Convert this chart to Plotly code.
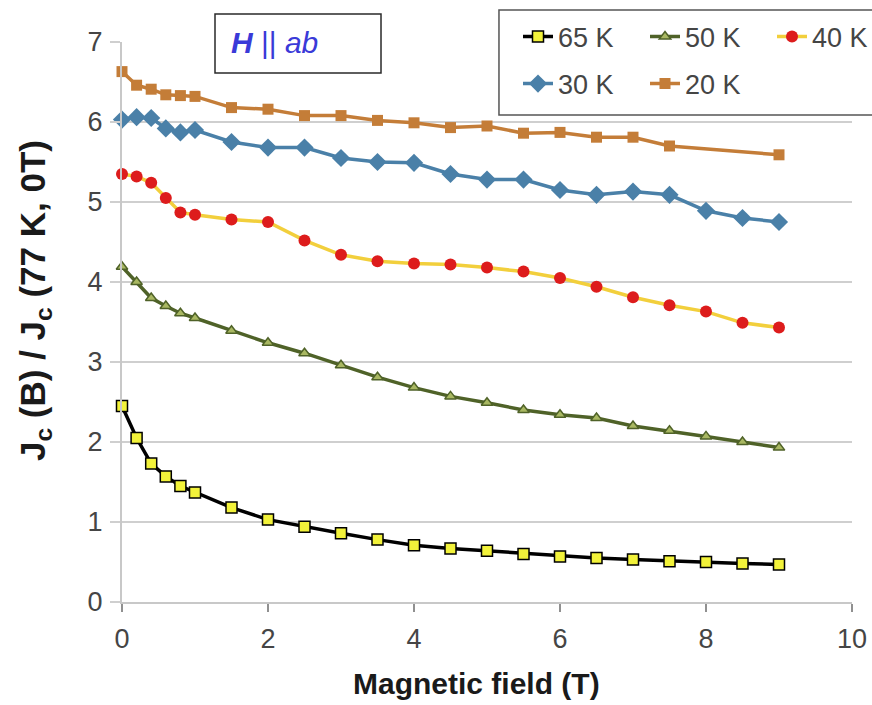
import plotly.graph_objects as go

field = [0, 0.2, 0.4, 0.6, 0.8, 1.0, 1.5, 2.0, 2.5, 3.0, 3.5, 4.0, 4.5, 5.0, 5.5, 6.0, 6.5, 7.0, 7.5, 8.0, 8.5, 9.0]
field_20k = [0, 0.2, 0.4, 0.6, 0.8, 1.0, 1.5, 2.0, 2.5, 3.0, 3.5, 4.0, 4.5, 5.0, 5.5, 6.0, 6.5, 7.0, 7.5, 9.0]

jc_65k = [2.45, 2.05, 1.73, 1.57, 1.45, 1.37, 1.18, 1.03, 0.94, 0.86, 0.78, 0.71, 0.67, 0.64, 0.60, 0.57, 0.55, 0.53, 0.51, 0.50, 0.48, 0.47]
jc_50k = [4.19, 4.00, 3.80, 3.70, 3.61, 3.55, 3.39, 3.24, 3.11, 2.96, 2.81, 2.68, 2.57, 2.49, 2.40, 2.34, 2.30, 2.20, 2.14, 2.07, 2.00, 1.93]
jc_40k = [5.35, 5.32, 5.24, 5.05, 4.87, 4.84, 4.78, 4.75, 4.52, 4.34, 4.26, 4.23, 4.22, 4.18, 4.13, 4.05, 3.94, 3.81, 3.71, 3.63, 3.49, 3.43]
jc_30k = [6.03, 6.06, 6.05, 5.92, 5.87, 5.90, 5.75, 5.68, 5.68, 5.55, 5.50, 5.49, 5.35, 5.28, 5.28, 5.15, 5.09, 5.13, 5.09, 4.89, 4.80, 4.75]
jc_20k = [6.63, 6.46, 6.41, 6.34, 6.33, 6.32, 6.18, 6.16, 6.08, 6.08, 6.02, 5.99, 5.93, 5.95, 5.86, 5.87, 5.81, 5.81, 5.70, 5.59]

x_ticks = [0, 2, 4, 6, 8, 10]
y_ticks = [0, 1, 2, 3, 4, 5, 6, 7]

x_title = "<b>Magnetic field (T)</b>"
y_title = "<b>J<sub>c</sub> (B) / J<sub>c</sub> (77 K, 0T)</b>"

FONT = "Arial, Liberation Sans, sans-serif"
TICK_COLOR = "#454545"
W, H = 872, 705

fig = go.Figure()

fig.add_trace(go.Scatter(
    x=field, y=jc_65k, name="65 K", mode="lines+markers", legend="legend",
    line=dict(color="#000000", width=3.5),
    marker=dict(symbol="square", size=11, color="#f2f23a", line=dict(color="#000000", width=1.5)),
    cliponaxis=False,
))
fig.add_trace(go.Scatter(
    x=field, y=jc_50k, name="50 K", mode="lines+markers", legend="legend",
    line=dict(color="#4f6228", width=3.5),
    marker=dict(symbol="triangle-up", size=10, color="#a9b862", line=dict(color="#4f6228", width=1.5)),
    cliponaxis=False,
))
fig.add_trace(go.Scatter(
    x=field, y=jc_40k, name="40 K", mode="lines+markers", legend="legend",
    line=dict(color="#f2cf3c", width=3.5),
    marker=dict(symbol="circle", size=12, color="#dd1c1c", line=dict(width=0)),
    cliponaxis=False,
))
fig.add_trace(go.Scatter(
    x=field, y=jc_30k, name="30 K", mode="lines+markers", legend="legend2",
    line=dict(color="#4a80a8", width=3.5),
    marker=dict(symbol="diamond", size=14, color="#4a80a8", line=dict(width=0)),
    cliponaxis=False,
))
fig.add_trace(go.Scatter(
    x=field_20k, y=jc_20k, name="20 K", mode="lines+markers", legend="legend2",
    line=dict(color="#c47d38", width=3.5),
    marker=dict(symbol="square", size=11, color="#c47d38", line=dict(width=0)),
    cliponaxis=False,
))

# boxes (annotation box and legend box)
fig.add_shape(type="rect", xref="paper", yref="paper", x0=0.1274, x1=0.3548, y0=0.9446, y1=1.05,
              line=dict(color="#2a2a2a", width=1.5), fillcolor="white", layer="above")
fig.add_shape(type="rect", xref="paper", yref="paper", x0=0.5164, x1=1.04, y0=0.8696, y1=1.0571,
              line=dict(color="#555555", width=1.5), fillcolor="white", layer="above")

fig.add_annotation(
    x=0.1466, y=1.0, xref="paper", yref="paper", xanchor="left", yanchor="middle",
    text="<b><i>H</i></b> || <i>ab</i>", showarrow=False,
    font=dict(family=FONT, size=30, color="#3a3ad8"),
)

# axis titles
fig.add_annotation(
    x=0.485, y=-0.1464, xref="paper", yref="paper", xanchor="center", yanchor="middle",
    text=x_title, showarrow=False,
    font=dict(family=FONT, size=30, color="#1a1a1a"),
)
fig.add_annotation(
    x=0, y=0.5375, xref="paper", yref="paper", xanchor="center", yanchor="middle",
    xshift=-87, textangle=-90,
    text=y_title, showarrow=False,
    font=dict(family=FONT, size=35, color="#1a1a1a"),
)

legend_common = dict(
    orientation="h", xref="container", yref="container",
    xanchor="left", yanchor="middle",
    borderwidth=0, bgcolor="rgba(0,0,0,0)",
    font=dict(family=FONT, size=27, color=TICK_COLOR),
    entrywidth=82, entrywidthmode="pixels", itemwidth=30,
    traceorder="normal",
)

fig.update_layout(
    width=W, height=H,
    margin=dict(l=122, r=20, t=42, b=103, autoexpand=False),
    paper_bgcolor="white", plot_bgcolor="white",
    font=dict(family=FONT, color=TICK_COLOR),
    showlegend=True,
    legend=dict(x=518 / W, y=1 - 37 / H, **legend_common),
    legend2=dict(x=518 / W, y=1 - 84 / H, **legend_common),
    xaxis=dict(
        range=[0, 10], tickvals=x_ticks, ticktext=[str(v) for v in x_ticks],
        showgrid=False, zeroline=False,
        showline=True, linecolor="#c8c8c8", linewidth=2,
        ticks="outside", ticklen=8, tickwidth=1.5, tickcolor="#909090",
        ticklabelstandoff=4,
        tickfont=dict(family=FONT, size=27, color=TICK_COLOR),
    ),
    yaxis=dict(
        range=[0, 7], tickvals=y_ticks, ticktext=[str(v) for v in y_ticks],
        showgrid=True, gridcolor="#cfcfcf", gridwidth=2, zeroline=False,
        showline=True, linecolor="#c8c8c8", linewidth=2,
        ticks="outside", ticklen=10, tickwidth=2, tickcolor="#cfcfcf",
        ticklabelstandoff=2,
        tickfont=dict(family=FONT, size=27, color=TICK_COLOR),
    ),
)

fig.write_html(
    "out.html",
    config={"displayModeBar": False},
    post_script="document.body.style.margin='0';document.body.style.overflow='hidden';",
)
